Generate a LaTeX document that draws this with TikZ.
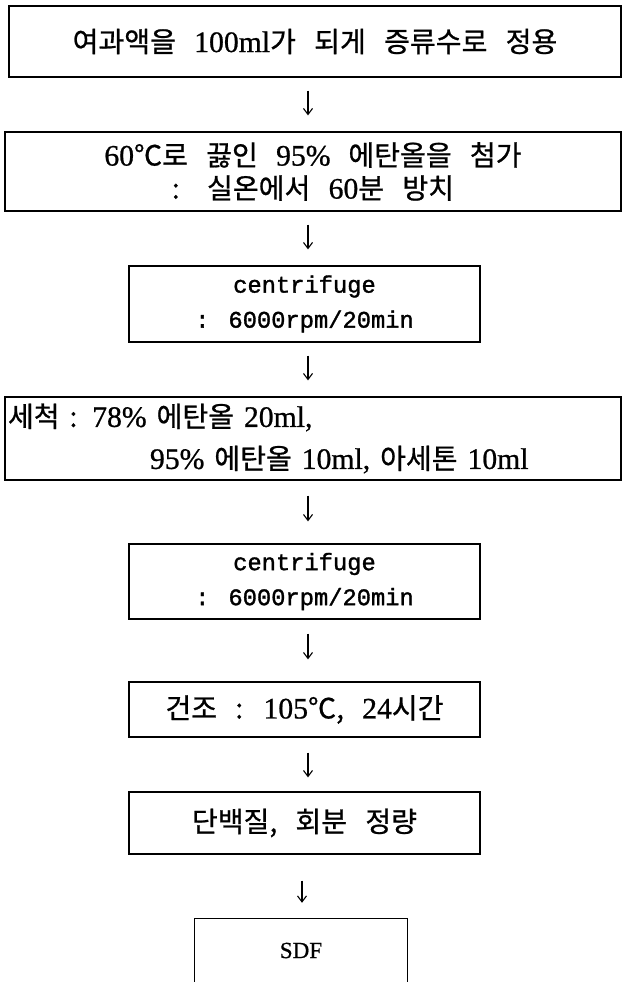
\documentclass[tikz,border=0pt]{standalone}
\usepackage{fontspec}
\setmainfont{Liberation Serif}[Scale=1.1,WordSpace=2.4,FakeBold=0.8]
\newfontfamily\kr{Noto Sans CJK KR}[Scale=1.04,WordSpace=2.9,FakeBold=0.8]
\newfontfamily\mono{Liberation Mono}[Scale=0.88,FakeBold=1.4]
\usetikzlibrary{arrows.meta}
\begin{document}
\begin{tikzpicture}[x=1pt,y=-1pt]
\tikzset{
  box/.style={draw=black, line width=1.3pt, inner sep=0pt, align=center},
  txt/.style={font=\fontsize{27}{33}\selectfont},
  flow/.style={line width=1.1pt, -{Straight Barb[length=6pt,width=9pt,line width=1.1pt]},
               shorten <=13pt, shorten >=16pt}
}
\useasboundingbox (0,0) rectangle (623,982);
\fill[white] (0,0) rectangle (623,982);
\coordinate (ax) at (308,0);
\coordinate (ay) at (302,0);

\node[box, txt, minimum width=612pt, minimum height=71pt] (b1) at (315,41.5)
  {{\kr 여과액을 }100ml{\kr 가 되게 증류수로 정용}};
\node[box, font=\fontsize{27}{33}\selectfont, minimum width=616pt, minimum height=79pt] (b2) at (313,171.5)
  {60{\kr ℃로 끓인 }95\% {\kr 에탄올을 첨가}\\{\kr :\hspace{7pt} 실온에서 }60{\kr 분 방치}};
\node[box, font=\fontsize{27}{35}\selectfont\mono, minimum width=351pt, minimum height=76pt] (b3) at (304.5,304)
  {centrifuge\\: 6000rpm/20min};
\node[box, font=\fontsize{27}{42}\selectfont, align=left, text width=610pt, inner xsep=3pt,
      minimum width=616pt, minimum height=83pt] (b4) at (313,438.5)
  {{\kr 세척 : }78\% {\kr 에탄올 }20ml,\\\hspace*{142pt}95\% {\kr 에탄올 }10ml, {\kr 아세톤 }10ml};
\node[box, font=\fontsize{27}{35}\selectfont\mono, minimum width=351pt, minimum height=75pt] (b5) at (304.5,581.5)
  {centrifuge\\: 6000rpm/20min};
\node[box, txt, minimum width=351pt, minimum height=55pt] (b6) at (304.5,709.5)
  {{\kr 건조 : }105{\kr ℃, }24{\kr 시간}};
\node[box, txt, minimum width=351pt, minimum height=62pt] (b7) at (304.5,823)
  {{\kr 단백질,\ 회분\ 정량}};
\node[inner sep=0pt, minimum width=212pt, minimum height=63pt, font=\fontsize{21}{24}\selectfont] (b8) at (301,950.5) {SDF};
\draw[line width=1.3pt] (b8.south west) -- (b8.north west) -- (b8.north east) -- (b8.south east);

\draw[flow] (b1.south -| ax) -- (b2.north -| ax);
\draw[flow] (b2.south -| ax) -- (b3.north -| ax);
\draw[flow] (b3.south -| ax) -- (b4.north -| ax);
\draw[flow, shorten <=15pt, shorten >=22pt] (b4.south -| ax) -- (b5.north -| ax);
\draw[flow, shorten <=14pt, shorten >=22pt] (b5.south -| ax) -- (b6.north -| ax);
\draw[flow, shorten <=15pt, shorten >=14pt] (b6.south -| ax) -- (b7.north -| ax);
\draw[flow, shorten <=26pt, shorten >=16pt] (b7.south -| ay) -- (b8.north -| ay);
\end{tikzpicture}
\end{document}
